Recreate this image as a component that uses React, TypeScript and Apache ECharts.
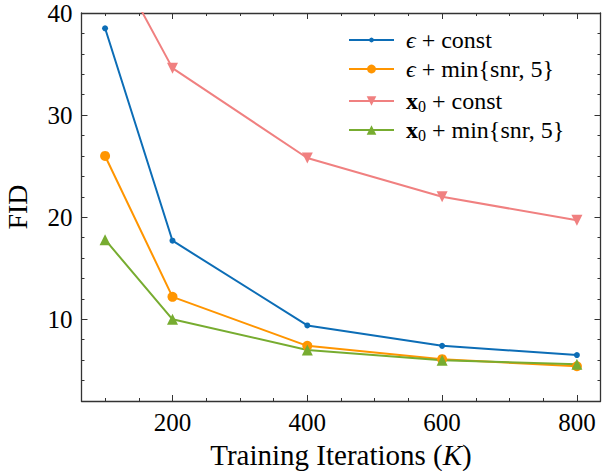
import React, { useEffect, useRef } from 'react';
import * as echarts from 'echarts';

const iterations = [100, 200, 400, 600, 800];
const epsConst = [38.5, 17.7, 9.4, 7.4, 6.5];
const epsMinSnr = [26.0, 12.2, 7.4, 6.1, 5.4];
const x0Const = [46.8, 34.6, 25.8, 22.0, 19.7];
const x0MinSnr = [17.8, 10.0, 7.0, 6.0, 5.6];

const xMajorTicks = [200, 400, 600, 800];
const xMinorTicks = [100, 150, 250, 300, 350, 450, 500, 550, 650, 700, 750];
const yMajorTicks = [10, 20, 30, 40];
const yMinorTicks = [4, 6, 8, 12, 14, 16, 18, 22, 24, 26, 28, 32, 34, 36, 38];

const seriesNames = ['eps_const', 'eps_min', 'x0_const', 'x0_min'];
const legendLabels = [
  '{g| }{e|ϵ} + const',
  '{g| }{e|ϵ} + min{snr, 5}',
  '{g| }{b|x}{s|0} + const',
  '{g| }{b|x}{s|0} + min{snr, 5}',
];
const colors = ['#0C6DB6', '#FF9500', '#F08080', '#77AC30'];

const FONT = '"Liberation Serif", "DejaVu Serif", serif';
const AX = '#333333';
const X_MIN = 65;
const X_MAX = 835;
const Y_MIN = 2;
const Y_MAX = 40;

function tickStyle() {
  return { color: AX, width: 1 };
}

export default function App() {
  const ref = useRef<HTMLDivElement>(null);
  useEffect(() => {
    if (!ref.current) return;
    const chart = echarts.init(ref.current, undefined, { renderer: 'svg' });
    const legendFont = 24;
    const rich = {
      g: { width: 7, fontSize: legendFont, fontFamily: FONT, lineHeight: 26 },
      e: { fontStyle: 'italic', fontSize: legendFont, fontFamily: FONT, color: '#000', lineHeight: 26 },
      b: { fontWeight: 'bold', fontSize: legendFont, fontFamily: FONT, color: '#000', lineHeight: 26 },
      s: { fontSize: 16, fontFamily: FONT, color: '#000', lineHeight: 16, verticalAlign: 'bottom' },
    };
    const legendTops = [27, 56, 88, 117];
    const legendHeights = [6, 11, 12, 12];
    const legends = seriesNames.map((n, i) => ({
      show: true,
      data: [n],
      left: 348,
      top: legendTops[i],
      orient: 'vertical',
      padding: 0,
      itemWidth: 45,
      itemHeight: legendHeights[i],
      selectedMode: false,
      formatter: () => legendLabels[i],
      textStyle: { fontFamily: FONT, fontSize: legendFont, color: '#000', lineHeight: 26, rich },
    }));

    const baseX = (position: string) => ({
      type: 'value',
      position,
      min: X_MIN,
      max: X_MAX,
      splitLine: { show: false },
    });
    const baseY = (position: string) => ({
      type: 'value',
      position,
      min: Y_MIN,
      max: Y_MAX,
      splitLine: { show: false },
    });

    const option: any = {
      animation: false,
      backgroundColor: '#ffffff',
      grid: { left: 81.5, right: 1.5, top: 13, bottom: 70, containLabel: false, outerBoundsMode: 'none' },
      legend: legends,
      xAxis: [
        {
          ...baseX('bottom'),
          axisLine: { show: true, onZero: false, lineStyle: { color: AX, width: 1.3 } },
          axisTick: { show: true, inside: true, length: 6, customValues: xMajorTicks, lineStyle: tickStyle() },
          axisLabel: { show: true, customValues: xMajorTicks, fontFamily: FONT, fontSize: 25, color: '#000', margin: 9 },
          name: 'Training Iterations ({i|K})',
          nameLocation: 'middle',
          nameGap: 39,
          nameTextStyle: {
            fontFamily: FONT,
            fontSize: 29,
            color: '#000',
            rich: { i: { fontStyle: 'italic', fontFamily: FONT, fontSize: 29, color: '#000' } },
          },
        },
        {
          ...baseX('bottom'),
          axisLine: { show: false, onZero: false },
          axisTick: { show: true, inside: true, length: 3, customValues: xMinorTicks, lineStyle: tickStyle() },
          axisLabel: { show: false },
        },
        {
          ...baseX('top'),
          axisLine: { show: true, onZero: false, lineStyle: { color: AX, width: 1.3 } },
          axisTick: { show: true, inside: true, length: 6, customValues: xMajorTicks, lineStyle: tickStyle() },
          axisLabel: { show: false },
        },
        {
          ...baseX('top'),
          axisLine: { show: false, onZero: false },
          axisTick: { show: true, inside: true, length: 3, customValues: xMinorTicks, lineStyle: tickStyle() },
          axisLabel: { show: false },
        },
      ],
      yAxis: [
        {
          ...baseY('left'),
          axisLine: { show: true, onZero: false, lineStyle: { color: AX, width: 1.3 } },
          axisTick: { show: true, inside: true, length: 6, customValues: yMajorTicks, lineStyle: tickStyle() },
          axisLabel: { show: true, customValues: yMajorTicks, fontFamily: FONT, fontSize: 25, color: '#000', margin: 9 },
          name: 'FID',
          nameLocation: 'middle',
          nameRotate: 90,
          nameGap: 50,
          nameTextStyle: { fontFamily: FONT, fontSize: 28, color: '#000' },
        },
        {
          ...baseY('left'),
          axisLine: { show: false, onZero: false },
          axisTick: { show: true, inside: true, length: 3, customValues: yMinorTicks, lineStyle: tickStyle() },
          axisLabel: { show: false },
        },
        {
          ...baseY('right'),
          axisLine: { show: true, onZero: false, lineStyle: { color: AX, width: 1.3 } },
          axisTick: { show: true, inside: true, length: 6, customValues: yMajorTicks, lineStyle: tickStyle() },
          axisLabel: { show: false },
        },
        {
          ...baseY('right'),
          axisLine: { show: false, onZero: false },
          axisTick: { show: true, inside: true, length: 3, customValues: yMinorTicks, lineStyle: tickStyle() },
          axisLabel: { show: false },
        },
      ],
      series: [
        {
          name: seriesNames[0],
          type: 'line',
          data: iterations.map((x, i) => [x, epsConst[i]]),
          symbol: 'circle',
          symbolSize: 6,
          lineStyle: { color: colors[0], width: 2 },
          itemStyle: { color: colors[0] },
          clip: true,
        },
        {
          name: seriesNames[1],
          type: 'line',
          data: iterations.map((x, i) => [x, epsMinSnr[i]]),
          symbol: 'circle',
          symbolSize: 10,
          lineStyle: { color: colors[1], width: 2 },
          itemStyle: { color: colors[1] },
          clip: true,
        },
        {
          name: seriesNames[2],
          type: 'line',
          data: iterations.map((x, i) => [x, x0Const[i]]),
          symbol: 'triangle',
          symbolRotate: 180,
          symbolSize: 11,
          lineStyle: { color: colors[2], width: 2 },
          itemStyle: { color: colors[2] },
          clip: true,
        },
        {
          name: seriesNames[3],
          type: 'line',
          data: iterations.map((x, i) => [x, x0MinSnr[i]]),
          symbol: 'triangle',
          symbolSize: 11,
          lineStyle: { color: colors[3], width: 2 },
          itemStyle: { color: colors[3] },
          clip: true,
        },
      ],
    };
    chart.setOption(option);
    return () => chart.dispose();
  }, []);
  return <div ref={ref} style={{ position: 'fixed', left: 0, top: 0, width: 602, height: 471 }} />;
}
